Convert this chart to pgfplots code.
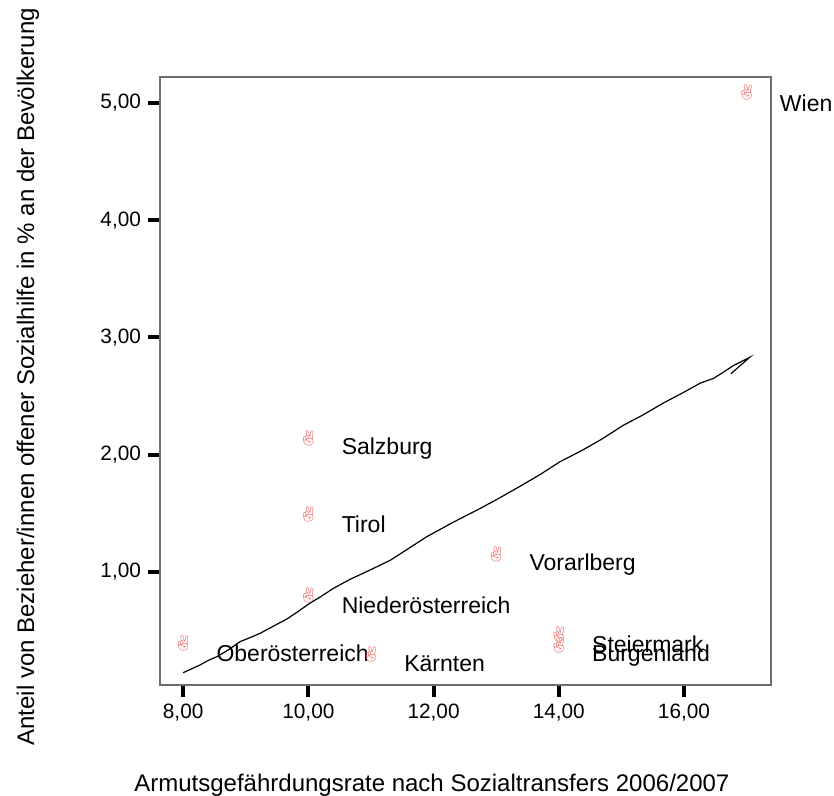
\documentclass[border=0pt]{standalone}
\usepackage{pgfplots}
\pgfplotsset{compat=1.18}
\usepackage{fontspec}
\setmainfont{Liberation Sans}
\newfontfamily\emojifont{Noto Emoji}
\usetikzlibrary{calc}
\definecolor{mk}{RGB}{240,105,105}
\definecolor{axgray}{RGB}{110,110,110}
\begin{document}
\begin{tikzpicture}
\begin{axis}[name=ax, scale only axis, width=305.5pt, height=304pt,
 xmin=7.63, xmax=17.39, ymin=0.036, ymax=5.22,
 axis line style={axgray, line width=0.6pt},
 xtick={8,10,12,14,16}, ytick={1,2,3,4,5},
 tick align=outside, major tick length=6pt,
 major tick style={black, line width=2pt},
 xtick pos=bottom, ytick pos=left,
 /pgf/number format/.cd, fixed, fixed zerofill, precision=2, use comma, assume math mode=true,
 /pgfplots/.cd,
 tick label style={font=\fontsize{10.4}{12}\selectfont},
 label style={font=\fontsize{12}{14}\selectfont},
 xlabel={Armutsgefährdungsrate nach Sozialtransfers 2006/2007},
 ylabel={Anteil von Bezieher/innen offener Sozialhilfe in \% an der Bevölkerung},
 xlabel style={at={(axis description cs:0.445,-0.1645)}, anchor=center},
 ylabel style={at={(axis description cs:-0.216,0.507)}, anchor=center},
 clip=false,
]
\addplot[black, line width=0.6pt, mark=none] coordinates {
(8.00,0.141) (8.14,0.175) (8.27,0.207) (8.40,0.245) (8.54,0.278) (8.72,0.335) (8.91,0.406)
(9.07,0.440) (9.23,0.477) (9.45,0.540) (9.66,0.600) (9.83,0.660) (10.00,0.725)
(10.20,0.790) (10.40,0.860) (10.67,0.938) (11.00,1.020) (11.31,1.100) (11.60,1.200)
(11.89,1.300) (12.30,1.420) (12.74,1.540) (13.05,1.630) (13.38,1.730) (13.70,1.830)
(14.02,1.940) (14.35,2.030) (14.68,2.130) (15.03,2.250) (15.35,2.340) (15.67,2.440)
(15.99,2.530) (16.26,2.610) (16.47,2.650) (16.62,2.700) (16.79,2.760) (17.05,2.830)
(16.75,2.690)
};
\addplot[only marks, mark=text, text mark={\fontsize{7.5}{8}\selectfont\emojifont\textcolor{mk}{✌}},
 mark options={mk},
 nodes near coords, point meta=explicit symbolic,
 every node near coord/.append style={anchor=west, xshift=16.5pt, yshift=-5pt,
   text=black, inner sep=0pt, font=\fontsize{11.5}{13}\selectfont}]
table[meta=label, row sep=\\] {
x y label\\
17 5.085 Wien\\
10 2.14 Salzburg\\
10 1.49 Tirol\\
13 1.15 Vorarlberg\\
10 0.80 Niederösterreich\\
8 0.39 Oberösterreich\\
11 0.30 Kärnten\\
14 0.47 Steiermark\\
14 0.375 Burgenland\\
};
\end{axis}
\pgfresetboundingbox
\path[use as bounding box] ($(ax.south west)+(-80pt,-55.5pt)$) rectangle ($(ax.north east)+(31.5pt,38.5pt)$);
\end{tikzpicture}
\end{document}
